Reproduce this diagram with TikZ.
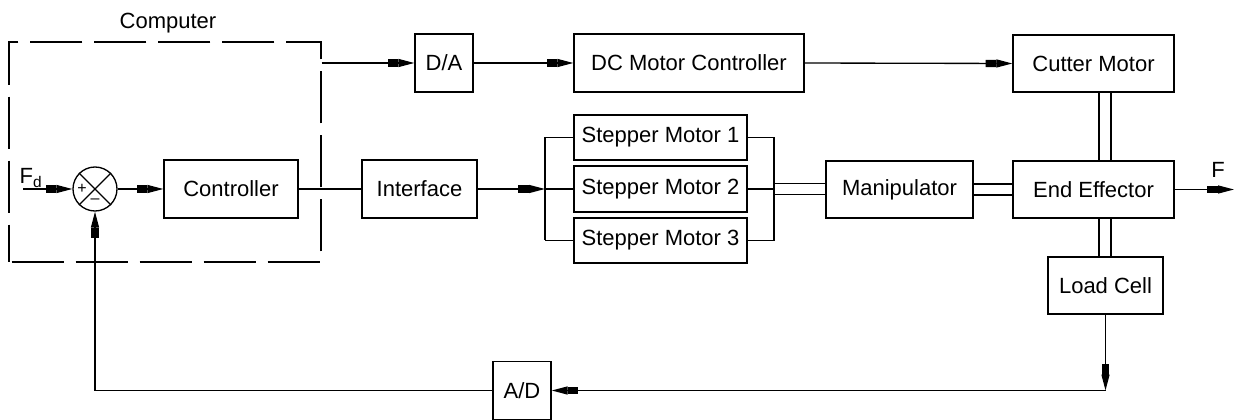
\documentclass[tikz,border=0pt]{standalone}
\usepackage{fontspec}
\setmainfont{Liberation Sans}
\usetikzlibrary{arrows.meta,calc}
\begin{document}
\begin{tikzpicture}[x=0.75pt,y=-0.75pt,
  every node/.style={font=\fontsize{16.5}{19}\selectfont},
  blk/.style={draw,line width=1pt,rectangle,inner sep=0pt,minimum height=43.5pt},
  ln/.style={line width=1pt},
  arr/.style={line width=1pt,-{Rectangle[length=8pt,width=5.5pt,sep=0pt]Triangle[length=12pt,width=6pt]}},
  dashbox/.style={draw,line width=1pt,dash pattern=on 39pt off 9pt,dash phase=-2pt,inner sep=0pt}]
\useasboundingbox (0,0) rectangle (1235,420);
% computer box
\node[dashbox,minimum width=234pt,minimum height=165pt] (comp) at (165,152) {};
\node (complbl) at (168,23) {Computer};
% summing junction
\node[draw,circle,line width=1pt,minimum size=33pt,inner sep=0pt] (sum) at (95,189) {};
\draw[ln] (sum.north west) -- (sum.south east);
\draw[ln] (sum.north east) -- (sum.south west);
\node[font=\fontsize{12}{12}\selectfont,inner sep=0pt] (plus) at (82,189) {+};
\node[font=\fontsize{12}{12}\selectfont,inner sep=0pt] (minus) at (95,201) {\textendash};
\node (fd) at (31,178) {F\textsubscript{d}};
\coordinate (fin) at (23,189);
% blocks
\node[blk,minimum width=100.5pt] (ctrl) at (231,189) {Controller};
\node[blk,minimum width=86.25pt] (intf) at (419.5,189) {Interface};
\node[blk,minimum width=43.5pt] (da) at (444,63) {D/A};
\node[blk,minimum width=172.5pt] (dc) at (689,63) {DC Motor Controller};
\node[blk,minimum width=129.75pt,minimum height=33.75pt] (s1) at (660.5,137.5) {Stepper Motor 1};
\node[blk,minimum width=129.75pt,minimum height=34.5pt] (s2) at (660.5,189) {Stepper Motor 2};
\node[blk,minimum width=129.75pt,minimum height=33.75pt] (s3) at (660.5,240.5) {Stepper Motor 3};
\node[blk,minimum width=110.25pt,minimum height=42.75pt] (man) at (899.5,189.5) {Manipulator};
\node[blk,minimum width=120.75pt,minimum height=42.75pt] (cut) at (1093.5,63.5) {Cutter Motor};
\node[blk,minimum width=120.75pt,minimum height=42.75pt] (ee) at (1093.5,189.5) {End Effector};
\node[blk,minimum width=86.25pt,minimum height=42.75pt] (lc) at (1105.5,285.5) {Load Cell};
\node[blk,minimum width=43.5pt] (ad) at (522,390.5) {A/D};
\node (flbl) at (1218,170) {F};
\coordinate (fout) at (1234,189.5);
\coordinate (br) at (545,189);
\coordinate (bus) at (774,189);
\coordinate (corner) at (1105.5,390.5);
% connectors
\draw[arr] (fin) -- (sum.west);
\draw[arr] (sum.east) -- (ctrl.west);
\draw[ln] (ctrl.east) -- (intf.west);
\draw[arr] (intf.east) -- (br);
\draw[ln] (br |- s1.west) -- (br |- s3.west);
\draw[ln] (br |- s1.west) -- (s1.west);
\draw[ln] (br) -- (s2.west);
\draw[ln] (br |- s3.west) -- (s3.west);
\draw[ln] (s1.east) -- (s1.east -| bus) -- (s3.east -| bus) -- (s3.east);
\draw[ln] (s2.east) -- (bus);
\draw[ln] ([yshift=4.1pt]bus) -- ([yshift=4.1pt]bus -| man.west);
\draw[ln] ([yshift=-4.1pt]bus) -- ([yshift=-4.1pt]bus -| man.west);
\draw[ln] ([yshift=4.1pt]man.east) -- ([yshift=4.1pt]ee.west);
\draw[ln] ([yshift=-4.1pt]man.east) -- ([yshift=-4.1pt]ee.west);
\draw[ln] ([xshift=4.1pt]cut.south) -- ([xshift=4.1pt]ee.north);
\draw[ln] ([xshift=13.1pt]cut.south) -- ([xshift=13.1pt]ee.north);
\draw[ln] ([xshift=4.1pt]ee.south) -- ([xshift=4.1pt]ee.south |- lc.north);
\draw[ln] ([xshift=13.1pt]ee.south) -- ([xshift=13.1pt]ee.south |- lc.north);
\draw[arr] (comp.east |- da.west) -- (da.west);
\draw[arr] (da.east) -- (dc.west);
\draw[arr] (dc.east) -- (cut.west);
\draw[arr] (ee.east) -- (fout);
\draw[arr] (lc.south) -- (corner);
\draw[arr] (corner) -- (ad.east);
\draw[arr] (ad.west) -| (sum.south);
\end{tikzpicture}
\end{document}
